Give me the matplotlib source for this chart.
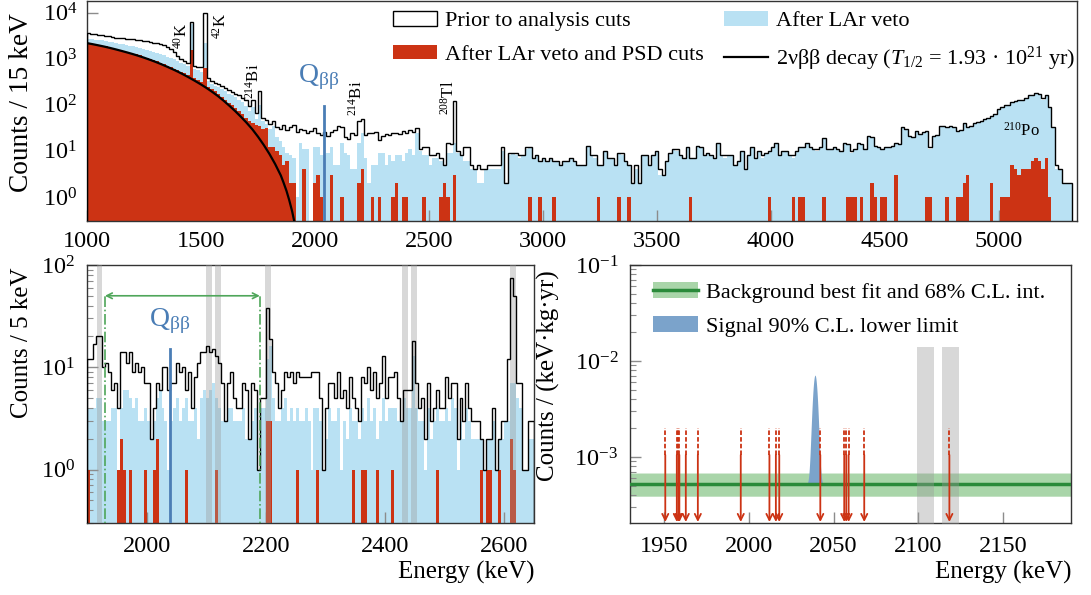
import numpy as np
import matplotlib
matplotlib.use('Agg')
import matplotlib.pyplot as plt
from matplotlib.patches import Patch
from matplotlib.lines import Line2D

plt.rcParams['font.family'] = ['Liberation Serif', 'DejaVu Serif']
plt.rcParams['mathtext.fontset'] = 'custom'
plt.rcParams['mathtext.rm'] = 'Liberation Serif'
plt.rcParams['mathtext.it'] = 'Liberation Serif:italic'
plt.rcParams['mathtext.bf'] = 'Liberation Serif:bold'

RED = '#cc3314'
BLUE = '#b9e1f3'
QBLUE = '#4a7db5'
GREEN = '#4fa65a'
TICK = '#8c8c8c'

# ---------------- top panel: counts / 15 keV from 1000 keV ----------------
top_start = 1000
top_width = 15
prior_top = [
    3600, 3500, 3400, 3300, 3250, 3150, 3050, 2980, 2900, 2850,   # 1000
    2800, 2750, 2700, 2650, 2550, 2500, 2450, 2400, 2350, 2250,   # 1150
    2150, 2050, 1950, 1800, 1600, 1400, 1150, 1000, 900, 820,     # 1300
    6200, 690, 670, 650, 10000, 380, 330, 300, 280, 260,          # 1450
    235, 210, 190, 175, 160, 140, 125, 95, 125, 65,               # 1600
    200, 52, 46, 38, 44, 33, 30, 36, 28, 33,                      # 1750
    37, 26, 30, 28, 24, 27, 31, 25, 22, 26,                       # 1900
    21, 26, 28, 35, 33, 20, 18, 24, 22, 45,                       # 2050
    50, 22, 25, 24, 26, 17, 21, 23, 22, 24,                       # 2200
    25, 23, 27, 25, 28, 26, 32, 11, 12, 12,                       # 2350
    8, 8, 9, 7, 5, 15, 14, 120, 10, 8,                            # 2500
    12, 12, 5, 4, 5, 4, 4, 5, 5, 5,                               # 2650
    5, 12, 2, 9, 9, 9, 8, 8, 12, 12,                              # 2800
    7, 8, 6, 7, 6, 7, 6, 6, 5, 6,                                 # 2950
    6, 7, 6, 5, 5, 5, 13, 8, 8, 5,                                # 3100
    5, 10, 7, 7, 5, 9, 9, 6, 5, 2,                                # 3250
    5, 2, 8, 8, 5, 8, 10, 4, 3, 6,                                # 3400
    9, 11, 11, 8, 7, 12, 7, 7, 13, 12,                            # 3550
    8, 9, 8, 7, 15, 8, 8, 8, 8, 5,                                # 3700
    6, 10, 4, 8, 12, 7, 10, 8, 9, 10,                             # 3850
    12, 15, 8, 10, 10, 8, 8, 10, 12, 12,                          # 4000
    15, 12, 11, 11, 12, 19, 11, 11, 12, 11,                       # 4150
    10, 15, 14, 10, 11, 15, 14, 11, 21, 20,                       # 4300
    13, 12, 11, 12, 12, 13, 15, 14, 33, 30,                       # 4450
    21, 20, 27, 23, 26, 27, 12, 21, 22, 35,                       # 4600
    34, 33, 35, 33, 27, 28, 40, 33, 34, 40,                       # 4750
    42, 45, 50, 52, 58, 62, 83, 91, 98, 100,                      # 4900
    117, 120, 128, 130, 138, 160, 165, 178, 175, 140,             # 5050
    160, 91, 33, 5, 4, 2, 2, 2,                                   # 5200
]
lar_top = [
    2750, 2700, 2620, 2560, 2500, 2420, 2350, 2280, 2200, 2140,
    2060, 2000, 1930, 1850, 1780, 1700, 1630, 1560, 1480, 1400,
    1330, 1260, 1190, 1110, 1040, 970, 900, 830, 760, 700,
    5800, 600, 560, 520, 2200, 330, 290, 260, 240, 220,
    200, 175, 160, 145, 125, 115, 95, 75, 90, 50,
    100, 45, 38, 30, 34, 20, 16, 12, 9, 8,
    7, 1, 15, 11, 11, 0, 12, 12, 8, 8,
    9, 12, 5, 5, 15, 9, 8, 4, 4, 15,
    24, 7, 2, 5, 5, 9, 9, 5, 8, 6,
    8, 8, 6, 9, 11, 8, 24, 10, 8, 8,
    5, 7, 7, 6, 5, 9, 9, 15, 9, 8,
    6, 6, 4, 4, 2, 2, 4, 4, 4, 4,
    4, 10, 2, 8, 9, 8, 7, 8, 11, 12,
    7, 8, 6, 7, 6, 7, 6, 6, 5, 6,
    6, 7, 6, 5, 5, 5, 13, 8, 7, 5,
    5, 10, 7, 7, 5, 9, 8, 6, 5, 2,
    4, 2, 8, 8, 5, 8, 10, 3, 3, 6,
    9, 11, 10, 8, 7, 12, 7, 7, 13, 12,
    8, 9, 8, 7, 15, 8, 7, 8, 8, 5,
    6, 10, 4, 8, 12, 7, 10, 7, 9, 10,
    12, 15, 8, 10, 10, 8, 7, 10, 12, 12,
    15, 12, 11, 10, 12, 19, 11, 11, 12, 11,
    10, 15, 14, 9, 11, 15, 14, 11, 21, 20,
    13, 12, 11, 12, 12, 13, 15, 14, 33, 30,
    21, 20, 27, 23, 26, 27, 11, 21, 22, 35,
    34, 33, 35, 33, 27, 28, 40, 33, 34, 40,
    42, 45, 50, 52, 58, 62, 83, 91, 98, 100,
    117, 120, 128, 130, 138, 160, 165, 178, 175, 130,
    160, 91, 33, 4, 4, 2, 2, 2,
]
# PSD: dense below 1900 keV, single bins above (bin lower edge, counts)
psd_top_lo = [
    2200, 2130, 2060, 2000, 1930, 1850, 1790, 1710, 1640, 1570,
    1500, 1430, 1370, 1300, 1240, 1180, 1110, 1050, 990, 930,
    880, 820, 765, 710, 660, 615, 570, 525, 480, 445,
    1580, 380, 345, 315, 630, 250, 220, 195, 175, 150,
    130, 112, 100, 85, 72, 62, 52, 44, 40, 36,
    34, 30, 31, 12, 12, 10, 8, 5, 6, 2,
]
psd_top_hi_E = [1900, 1945, 1990, 2005, 2020, 2065, 2110, 2185, 2200, 2245,
                2275, 2335, 2350, 2380, 2395, 2470, 2545, 2560, 2575, 2605,
                2935, 2980, 3040, 3235, 3325, 3370, 3640, 3985, 4090, 4120,
                4135, 4225, 4330, 4345, 4360, 4390, 4435, 4450, 4480, 4495,
                4540, 4675, 4690, 4765, 4810, 4825, 4840, 4855, 4960, 5005,
                5020, 5035, 5050, 5065, 5080, 5095, 5110, 5125, 5140, 5155,
                5170, 5185, 5200, 5215]
psd_top_hi_n = [2, 4, 2, 3, 1, 3, 1, 2, 4, 1,
                1, 1, 2, 1, 1, 1, 1, 2, 1, 3,
                1, 1, 1, 1, 1, 1, 1, 1, 1, 1,
                1, 1, 1, 1, 1, 1, 2, 1, 1, 1,
                3, 1, 1, 1, 1, 1, 2, 3, 2, 1,
                1, 1, 5, 4, 3, 4, 4, 4, 6, 7,
                6, 4, 7, 1]

# 2nbb model curve
curve_E = [1000, 1025, 1050, 1075, 1100, 1125, 1150, 1175, 1200, 1225,
           1250, 1275, 1300, 1325, 1350, 1375, 1400, 1425, 1450, 1475,
           1500, 1525, 1550, 1575, 1600, 1625, 1650, 1675, 1700, 1725,
           1750, 1775, 1800, 1825, 1850, 1862, 1875, 1887, 1900, 1912]
curve_N = [2190, 2075, 1960, 1845, 1726, 1607, 1490, 1378, 1270, 1163,
           1058, 956, 859, 766, 678, 596, 521, 450, 386, 328,
           277, 231, 190, 154, 122, 95, 73, 55, 40.8, 29.5,
           20.3, 13.5, 8.6, 5.2, 2.93, 2.05, 1.35, 0.85, 0.48, 0.25]

# ---------------- bottom left: counts / 5 keV from 1900 keV ----------------
fine_start = 1900
fine_width = 5
prior_fine = [
    12, 12, 17, 20, 20, 10, 11, 9, 6, 7,
    4, 14, 14, 11, 14, 9, 11, 9, 10, 7,
    7, 2, 4, 7, 6, 10, 10, 6, 7, 7,
    11, 9, 10, 6, 9, 4, 8, 11, 14, 14,
    16, 14, 15, 13, 11, 7, 3, 7, 9, 5,
    4, 4, 7, 6, 2, 7, 6, 1, 5, 5,
    38, 19, 9, 7, 4, 6, 9, 8, 9, 7,
    9, 8, 8, 8, 8, 9, 9, 9, 5, 1,
    4, 7, 7, 5, 9, 5, 6, 4, 8, 5,
    4, 3, 8, 7, 10, 6, 9, 5, 7, 13,
    5, 8, 8, 9, 5, 3, 6, 6, 6, 18,
    7, 4, 5, 2, 7, 3, 4, 6, 4, 4,
    8, 5, 7, 7, 2, 5, 3, 7, 4, 3,
    3, 3, 2, 1, 2, 2, 4, 1, 2, 3,
    3, 12, 74, 50, 7, 7, 1, 1, 3, 3,
]
lar_fine = [
    4, 4, 4, 5, 5, 3, 3, 3, 4, 4,
    1, 4, 6, 6, 5, 4, 5, 3, 3, 4,
    3, 2, 3, 5, 6, 4, 3, 1, 3, 4,
    5, 3, 4, 5, 3, 3, 4, 2, 5, 6,
    5, 6, 7, 5, 4, 3, 3, 4, 4, 3,
    3, 3, 4, 2, 2, 3, 4, 1, 4, 4,
    12, 16, 5, 3, 3, 4, 5, 3, 4, 3,
    4, 3, 3, 4, 3, 1, 4, 4, 3, 1,
    2, 4, 3, 3, 4, 1, 3, 2, 4, 3,
    3, 2, 4, 3, 5, 3, 4, 2, 3, 5,
    3, 4, 4, 4, 3, 3, 5, 4, 4, 13,
    4, 3, 3, 1, 4, 2, 3, 4, 3, 3,
    4, 3, 5, 4, 1, 3, 2, 4, 3, 2,
    2, 2, 2, 1, 2, 2, 3, 1, 2, 2,
    3, 3, 7, 7, 5, 4, 1, 1, 2, 2,
]
psd_fine_E = [1900, 1950, 1955, 1960, 1970, 1995, 2010, 2015, 2065, 2115,
              2200, 2205, 2250, 2285, 2345, 2360, 2365, 2385, 2410, 2485,
              2560, 2570, 2575, 2590, 2610, 2615]
psd_fine_n = [1, 1, 2, 1, 1, 1, 1, 2, 1, 1,
              3, 3, 1, 1, 1, 1, 1, 1, 1, 1,
              1, 1, 1, 1, 2, 1]
# excluded gamma-line windows (keV)
band_lo = [1916, 2099, 2114, 2199, 2429, 2444, 2609]
band_hi = [1926, 2109, 2124, 2209, 2439, 2454, 2619]

# ---------------- bottom right: ROI events and fit ----------------
events_E = [1950.8, 1957.6, 1958.5, 1959.1, 1962.9, 1970.0, 1995.3, 2012.2,
            2016.0, 2018.0, 2042.2, 2056.3, 2057.5, 2058.9, 2068.1, 2118.3]
bkg_best = 5.2e-4
bkg_lo, bkg_hi = 3.9e-4, 6.8e-4
sig_peak = 6.6e-3      # signal amplitude at Qbb (counts/(keV kg yr))
sig_sigma = 1.3        # keV
Qbb = 2039.06
roi_bands_lo = [2099, 2114]
roi_bands_hi = [2109, 2124]


def hist_arr(vals, floor):
    v = np.asarray(vals, dtype=float)
    return np.where(v > 0, v, floor)


def sparse_to_bins(E, n, start, width, nbins):
    out = np.zeros(nbins)
    idx = ((np.asarray(E) - start) // width).astype(int)
    out[idx] = n
    return out


def style_axis(ax):
    ax.tick_params(which='both', direction='in', color=TICK, labelsize=17.5)
    ax.tick_params(which='major', length=8, width=1)
    ax.tick_params(which='minor', length=4.5, width=0.8)
    ax.tick_params(axis='x', which='minor', bottom=False)
    for s in ax.spines.values():
        s.set_color('#333333')
        s.set_linewidth(1.0)


QLABEL = r'Q$_{\mathrm{\beta\beta}}$'

fig = plt.figure(figsize=(10.91, 5.95), dpi=100)
ax_top = fig.add_axes([87 / 1091, 1 - 221 / 595, 990 / 1091, 220 / 595])
ax_bl = fig.add_axes([87 / 1091, 1 - 523 / 595, 447 / 1091, 258 / 595])
ax_br = fig.add_axes([630 / 1091, 1 - 523 / 595, 441 / 1091, 258 / 595])

# ---- top
floor = 1e-2
nb = len(prior_top)
edges = top_start + top_width * np.arange(nb + 1)
psd_top = sparse_to_bins(psd_top_hi_E, psd_top_hi_n, top_start, top_width, nb)
psd_top[:len(psd_top_lo)] = psd_top_lo
ax_top.set_yscale('log')
ax_top.stairs(hist_arr(lar_top, floor), edges, fill=True, baseline=floor, color=BLUE, lw=0, zorder=1)
ax_top.stairs(hist_arr(psd_top, floor), edges, fill=True, baseline=floor, color=RED, lw=0, zorder=2)
ax_top.stairs(hist_arr(prior_top, floor), edges, baseline=floor, color='black', lw=1.0, zorder=3)
ax_top.plot(curve_E, curve_N, color='black', lw=1.6, zorder=4)
ax_top.plot([Qbb, Qbb], [0.1, 95], color=QBLUE, lw=2, zorder=4)
ax_top.text(2018, 400, QLABEL, color=QBLUE, fontsize=20, ha='center', va='center')
for lab, x, y in [(r'$^{40}$K', 1417, 3160), (r'$^{42}$K', 1585, 5200),
                  (r'$^{214}$Bi', 1732, 330), (r'$^{214}$Bi', 2184, 141),
                  (r'$^{208}$Tl', 2588, 141)]:
    ax_top.text(x, y, lab, rotation=90, fontsize=12, ha='center', va='center')
ax_top.text(5097, 27, r'$^{210}$Po', fontsize=12, ha='center', va='center')
ax_top.set_xlim(1000, 5342)
ax_top.set_ylim(0.3, 1.8e4)
ax_top.set_xticks(np.arange(1000, 5001, 500))
ax_top.set_yticks([1, 10, 100, 1000, 10000])
style_axis(ax_top)
ax_top.tick_params(axis='x', pad=7.5)
ax_top.tick_params(axis='y', pad=7)
ax_top.set_ylabel('Counts / 15 keV', fontsize=19.7, loc='top')
ax_top.yaxis.set_label_coords(-0.054, 0.945)

handles = [Patch(facecolor='white', edgecolor='black', lw=1.0),
           Patch(facecolor=RED, lw=0),
           Patch(facecolor=BLUE, lw=0),
           Line2D([], [], color='black', lw=1.6)]
labels = ['Prior to analysis cuts', 'After LAr veto and PSD cuts', 'After LAr veto',
          r'2νββ decay ($T_{1/2}$ = 1.93 · 10$^{21}$ yr)']
ax_top.legend(handles, labels, ncol=2, loc='upper left', bbox_to_anchor=(0.300, 0.995),
              frameon=False, fontsize=16, handlelength=2.0, handleheight=0.63,
              handletextpad=0.35, columnspacing=0.9, borderaxespad=0, labelspacing=0.62)

# ---- bottom left
nf = len(prior_fine)
edges_f = fine_start + fine_width * np.arange(nf + 1)
psd_fine = sparse_to_bins(psd_fine_E, psd_fine_n, fine_start, fine_width, nf)
ax_bl.set_yscale('log')
ax_bl.stairs(hist_arr(lar_fine, floor), edges_f, fill=True, baseline=floor, color=BLUE, lw=0, zorder=1)
ax_bl.stairs(hist_arr(psd_fine, floor), edges_f, fill=True, baseline=floor, color=RED, lw=0, zorder=2)
for lo, hi in zip(band_lo, band_hi):
    ax_bl.axvspan(lo, hi, color='#9a9a9a', alpha=0.38, lw=0, zorder=3)
ax_bl.stairs(hist_arr(prior_fine, floor), edges_f, baseline=floor, color='black', lw=1.0, zorder=4)
ax_bl.plot([Qbb, Qbb], [0.1, 15], color=QBLUE, lw=2, zorder=5)
ax_bl.text(Qbb, 28, QLABEL, color=QBLUE, fontsize=20, ha='center', va='center')
for xv in (1930, 2190):
    ax_bl.plot([xv, xv], [0.1, 50], color=GREEN, lw=1.2, ls='-.', zorder=5)
ax_bl.annotate('', xy=(1930, 50), xytext=(2190, 50),
               arrowprops=dict(arrowstyle='<->', color=GREEN, lw=1.2, shrinkA=0, shrinkB=0), zorder=5)
ax_bl.set_xlim(1900, 2650)
ax_bl.set_ylim(0.3, 100)
ax_bl.set_xticks([2000, 2200, 2400, 2600])
ax_bl.set_yticks([1, 10, 100])
style_axis(ax_bl)
ax_bl.tick_params(axis='x', pad=9)
ax_bl.tick_params(axis='y', pad=8.5)
ax_bl.set_ylabel('Counts / 5 keV', fontsize=18, loc='top')
ax_bl.yaxis.set_label_coords(-0.121, 0.992)
ax_bl.set_xlabel('Energy (keV)', fontsize=18, loc='right')
ax_bl.xaxis.set_label_coords(1.0, -0.145)

# ---- bottom right
ax_br.set_yscale('log')
xr = np.linspace(1930, 2190, 2601)
ax_br.fill_between(xr, bkg_lo, bkg_hi, color='#a9d5a9', lw=0, zorder=1)
sig = sig_peak * np.exp(-0.5 * ((xr - Qbb) / sig_sigma) ** 2)
mask = sig > 1e-6
ax_br.fill_between(xr[mask], bkg_best, bkg_best + sig[mask], color='#7ba3cb', lw=0, zorder=2)
ax_br.axhline(bkg_best, color='#2a8a3a', lw=2.5, zorder=3)
for lo, hi in zip(roi_bands_lo, roi_bands_hi):
    ax_br.fill_between([lo, hi], 1e-5, 1.4e-2, color='#9a9a9a', alpha=0.38, lw=0, zorder=4)
for e in events_E:
    ax_br.plot([e, e], [1.05e-3, 2.0e-3], color=RED, lw=1.3, ls=(0, (2.5, 1.2)), zorder=5)
    ax_br.annotate('', xy=(e, 2.1e-4), xytext=(e, 1.05e-3),
                   arrowprops=dict(arrowstyle='->', color=RED, lw=1.3, shrinkA=0, shrinkB=0,
                                   mutation_scale=11), zorder=5)
ax_br.set_xlim(1930, 2190)
ax_br.set_ylim(2.05e-4, 0.1)
ax_br.set_xticks([1950, 2000, 2050, 2100, 2150])
ax_br.set_yticks([1e-3, 1e-2, 1e-1])
style_axis(ax_br)
ax_br.tick_params(axis='x', pad=9)
ax_br.tick_params(axis='y', pad=8.5)
ax_br.set_ylabel('Counts / (keV·kg·yr)', fontsize=18, loc='top')
ax_br.yaxis.set_label_coords(-0.159, 0.981)
ax_br.set_xlabel('Energy (keV)', fontsize=18, loc='right')
ax_br.xaxis.set_label_coords(1.0, -0.145)
h_bkg = (Patch(facecolor='#a9d5a9', lw=0), Line2D([], [], color='#2a8a3a', lw=2.5))
h_sig = Patch(facecolor='#7ba3cb', lw=0)
ax_br.legend([h_bkg, h_sig], ['Background best fit and 68% C.L. int.', 'Signal 90% C.L. lower limit'],
             loc='upper left', bbox_to_anchor=(0.031, 0.969), frameon=False, fontsize=16,
             handlelength=2.05, handleheight=0.72, handletextpad=0.35, borderaxespad=0,
             labelspacing=0.62)

fig.savefig('out.png', dpi=100)
